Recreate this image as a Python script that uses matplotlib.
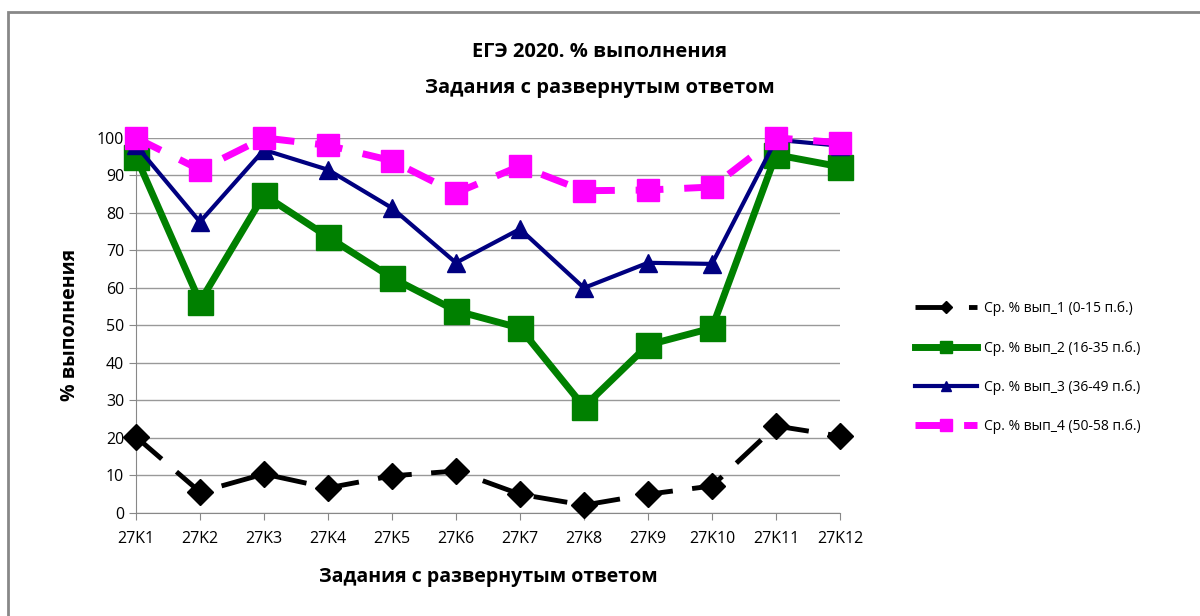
import matplotlib
matplotlib.use("Agg")
import matplotlib.pyplot as plt
from matplotlib.patches import Rectangle

plt.rcParams['font.family'] = ['Open Sans', 'DejaVu Sans']

# Data
tasks = ['27K1', '27K2', '27K3', '27K4', '27K5', '27K6',
         '27K7', '27K8', '27K9', '27K10', '27K11', '27K12']
grp1 = [20.3, 5.6, 10.4, 6.7, 9.9, 11.2, 5.0, 2.1, 5.0, 7.2, 23.2, 20.5]
grp2 = [95.0, 56.3, 84.8, 73.6, 62.7, 53.9, 49.3, 28.3, 44.8, 49.3, 95.5, 92.3]
grp3 = [98.0, 77.6, 96.8, 91.5, 81.3, 66.7, 75.7, 60.0, 66.7, 66.4, 99.5, 97.9]
grp4 = [100.0, 91.5, 100.0, 98.0, 93.9, 85.3, 92.5, 85.9, 86.1, 86.9, 100.0, 98.7]
labels = ['Ср. % вып_1 (0-15 п.б.)', 'Ср. % вып_2 (16-35 п.б.)',
          'Ср. % вып_3 (36-49 п.б.)', 'Ср. % вып_4 (50-58 п.б.)']

fig = plt.figure(figsize=(12, 6.16), dpi=100)
ax = fig.add_axes([0.1133, 0.1672, 0.5867, 0.609])

x = list(range(len(tasks)))

ax.plot(x, grp1, color='black', lw=3.5, dashes=[7, 4], marker='D',
        markersize=13, label=labels[0], zorder=3, clip_on=False)
ax.plot(x, grp2, color='#008000', lw=5, marker='s',
        markersize=18, label=labels[1], zorder=3, clip_on=False)
ax.plot(x, grp3, color='#000080', lw=3, marker='^',
        markersize=13, label=labels[2], zorder=4, clip_on=False)
ax.plot(x, grp4, color='#ff00ff', lw=5, dashes=[4, 3], marker='s',
        markersize=16, label=labels[3], zorder=5, clip_on=False)

ax.set_xlim(0, len(tasks) - 1)
ax.set_ylim(0, 100)
ax.set_yticks(range(0, 101, 10))
ax.set_xticks(x)
ax.set_xticklabels(tasks)
ax.tick_params(axis='both', labelsize=11.5, color='#888888', length=5)
ax.tick_params(axis='x', pad=8)
ax.grid(axis='y', color='#999999', lw=1)
ax.set_axisbelow(True)
for s in ['top', 'right']:
    ax.spines[s].set_visible(False)
for s in ['left', 'bottom']:
    ax.spines[s].set_color('#888888')

ax.set_xlabel('Задания с развернутым ответом', fontsize=14, fontweight='bold', labelpad=14)
ax.set_ylabel('% выполнения', fontsize=14, fontweight='bold', labelpad=12)

fig.text(0.5, 0.915, 'ЕГЭ 2020. % выполнения', ha='center', va='center',
         fontsize=14.5, fontweight='bold')
fig.text(0.5, 0.857, 'Задания с развернутым ответом', ha='center', va='center',
         fontsize=14.5, fontweight='bold')

ax.legend(loc='center left', bbox_to_anchor=(0.752, 0.403), bbox_transform=fig.transFigure,
          frameon=False, fontsize=10, handlelength=4.5, labelspacing=1.75,
          handletextpad=0.5, markerscale=0.5)

fig.patches.append(Rectangle((0.007, -0.01), 1.1, 0.99, transform=fig.transFigure,
                             fill=False, edgecolor='#888888', lw=2))

fig.savefig('out.png', dpi=100)
